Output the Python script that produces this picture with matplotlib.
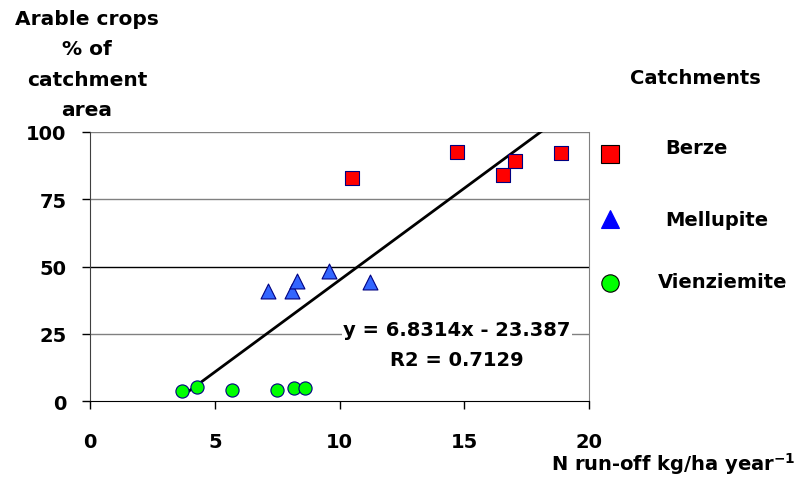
import matplotlib
matplotlib.use("Agg")
import matplotlib.pyplot as plt
import numpy as np
from matplotlib.lines import Line2D

plt.rcParams['font.family'] = ['DejaVu Sans']
plt.rcParams['font.weight'] = 'bold'
plt.rcParams['mathtext.fontset'] = 'dejavusans'
plt.rcParams['mathtext.default'] = 'bf'

berze_x = [10.49, 14.70, 16.57, 17.03, 18.88]
berze_y = [82.9, 92.4, 84.0, 89.3, 92.1]
mell_x = [7.12, 8.08, 8.30, 9.59, 11.21]
mell_y = [41.0, 40.8, 44.7, 48.2, 44.4]
vien_x = [3.69, 4.29, 5.69, 7.48, 8.16, 8.60]
vien_y = [3.8, 5.3, 4.2, 4.2, 4.7, 4.7]
slope, intercept = 6.8314, -23.387
xticks = [0, 5, 10, 15, 20]
yticks = [0, 25, 50, 75, 100]

FS = 14

fig = plt.figure(figsize=(8, 4.81), dpi=100)
ax = fig.add_axes([0.1125, 0.1642, 0.62375, 0.5593])
ax.set_xlim(0, 20)
ax.set_ylim(0, 100)

for yv in yticks[1:]:
    col = 'black' if yv == 50 else '#808080'
    ax.axhline(yv, color=col, lw=1.0, zorder=1)

all_x = berze_x + mell_x + vien_x
xs = np.linspace(min(all_x), max(all_x), 200)
ax.plot(xs, slope * xs + intercept, color='black', lw=2, zorder=3, clip_on=True)

ax.scatter(berze_x, berze_y, marker='s', s=95, c='#ff0000', edgecolors='#000080', linewidths=0.8, zorder=4)
ax.scatter(mell_x, mell_y, marker='^', s=115, c='#3366ff', edgecolors='#000080', linewidths=0.8, zorder=4)
ax.scatter(vien_x, vien_y, marker='o', s=90, c='#00ff00', edgecolors='#000080', linewidths=0.8, zorder=4)

ax.text(14.71, 26.5, 'y = 6.8314x - 23.387', ha='center', va='center', fontsize=FS,
        fontweight='bold', zorder=5, bbox=dict(facecolor='white', edgecolor='none', pad=1))
ax.text(14.71, 15.6, 'R2 = 0.7129', ha='center', va='center', fontsize=FS,
        fontweight='bold', zorder=5)

ax.set_xticks(xticks)
ax.set_yticks(yticks)
ax.tick_params(axis='both', direction='out', length=6, width=1, labelsize=FS, colors='black')
ax.tick_params(axis='x', pad=16)
ax.tick_params(axis='y', pad=11)
for lab in ax.get_xticklabels() + ax.get_yticklabels():
    lab.set_fontweight('bold')
ax.spines['top'].set_visible(False)
ax.spines['right'].set_color('#808080')
ax.spines['left'].set_color('#404040')
ax.spines['bottom'].set_color('black')

fig.text(87/800, 1 - 65/481, 'Arable crops\n% of\ncatchment\narea', ha='center', va='center',
         fontsize=FS + 0.5, fontweight='bold', linespacing=1.75)
fig.text(796/800, 1 - 464/481, 'N run-off kg/ha year$^{-1}$', ha='right', va='center',
         fontsize=FS, fontweight='bold')

fig.text(695/800, 1 - 78/481, 'Catchments', ha='center', va='center', fontsize=FS, fontweight='bold')
leg_items = [('s', '#ff0000', 'Berze', 155, 149, 665),
             ('^', '#0000ff', 'Mellupite', 220, 220, 665),
             ('o', '#00ff00', 'Vienziemite', 284, 283, 658)]
for mk, col, name, my, ty, tx in leg_items:
    fig.add_artist(Line2D([610/800], [1 - my/481], marker=mk, markersize=12.5,
                          markerfacecolor=col, markeredgecolor='black' if mk != '^' else col,
                          markeredgewidth=0.8, linestyle='none', transform=fig.transFigure))
    fig.text(tx/800, 1 - ty/481, name, ha='left', va='center', fontsize=FS, fontweight='bold')

fig.savefig('out.png', dpi=100)
